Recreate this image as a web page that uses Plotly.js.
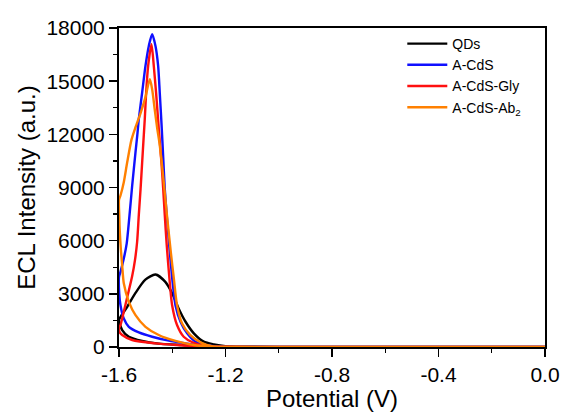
<!DOCTYPE html>
<html><head><meta charset="utf-8">
<script src="https://cdn.plot.ly/plotly-3.0.1.min.js"></script>
<style>html,body{margin:0;padding:0;background:#fff}</style>
</head><body><div id="chart" style="width:563px;height:412px"></div>
<script>
// Series names
const names = ["QDs", "A-CdS", "A-CdS-Gly", "A-CdS-Ab<sub>2</sub>"];
const colors = ["#000000", "#1010ff", "#ff1010", "#ff8000"];

// Potential (V) and ECL intensity (a.u.), scan 0 V -> -1.6 V -> back to 0 V
const qdsV = [0, -0.9, -1.2, -1.244, -1.282, -1.319, -1.350, -1.376, -1.400, -1.426, -1.463, -1.501, -1.538, -1.569, -1.594, -1.600, -1.588, -1.563, -1.513, -1.451, -1.363, -1.28, -1.2, -0.9, 0];
const qdsI = [0, 0, 50, 150, 300, 770, 1425, 2175, 3020, 3675, 4090, 3800, 3050, 2270, 1705, 1520, 956, 580, 340, 190, 110, 40, 10, 0, 0];

const cdsV = [0, -0.9, -1.2, -1.25, -1.313, -1.344, -1.369, -1.388, -1.400, -1.410, -1.420, -1.428, -1.434, -1.440, -1.447, -1.453, -1.463, -1.4755, -1.488, -1.5006, -1.513, -1.5256, -1.531, -1.538, -1.5505, -1.5606, -1.571, -1.582, -1.5944, -1.600, -1.599, -1.5944, -1.582, -1.563, -1.5256, -1.4755, -1.413, -1.3506, -1.30, -1.2, -0.9, 0];
const cdsI = [0, 0, 20, 60, 300, 770, 1425, 2360, 3860, 5500, 7300, 8900, 10700, 12500, 14360, 15860, 16990, 17650, 16990, 15860, 14360, 12860, 12000, 11000, 9100, 7425, 5850, 4990, 4240, 3950, 3000, 2360, 1610, 1140, 825, 580, 356, 206, 100, 20, 0, 0];

const glyV = [0, -0.9, -1.2, -1.25, -1.32, -1.357, -1.382, -1.4005, -1.4106, -1.421, -1.428, -1.434, -1.4406, -1.449, -1.455, -1.461, -1.469, -1.4781, -1.4905, -1.498, -1.5032, -1.507, -1.513, -1.519, -1.5257, -1.532, -1.540, -1.5505, -1.5692, -1.582, -1.5944, -1.600, -1.598, -1.588, -1.5505, -1.4631, -1.38, -1.3, -1.2, -0.9, 0];
const glyI = [0, 0, 10, 20, 240, 580, 1240, 2360, 3860, 5800, 7425, 8925, 10420, 12000, 13200, 14400, 15800, 17080, 15860, 14360, 12860, 11925, 10420, 8925, 7425, 5925, 4900, 4000, 2800, 1990, 1240, 1050, 850, 675, 394, 206, 110, 40, 10, 0, 0];

const abV = [0, -0.9, -1.2, -1.25, -1.29, -1.332, -1.363, -1.382, -1.394, -1.405, -1.419, -1.428, -1.438, -1.447, -1.457, -1.466, -1.4756, -1.4843, -1.5006, -1.519, -1.538, -1.553, -1.5692, -1.582, -1.5944, -1.600, -1.599, -1.597, -1.593, -1.588, -1.582, -1.563, -1.538, -1.5006, -1.4507, -1.388, -1.32, -1.25, -1.0, 0];
const abI = [0, 0, 10, 40, 230, 675, 1330, 2360, 3860, 5300, 7300, 8700, 10200, 11400, 12400, 13430, 14550, 15110, 14100, 13200, 12400, 11700, 10420, 9300, 8550, 8300, 7400, 6500, 5500, 4600, 3600, 2550, 1800, 1140, 675, 340, 110, 30, 0, 0];

const xs = [qdsV, cdsV, glyV, abV];
const ys = [qdsI, cdsI, glyI, abI];

const traces = names.map((n, i) => ({
  x: xs[i], y: ys[i], name: n, type: "scatter", mode: "lines",
  line: {color: colors[i], width: 2.4, shape: "spline", smoothing: 0.7}
}));

const fam = "Liberation Sans, Arial, sans-serif";
const layout = {
  width: 563, height: 412,
  margin: {l: 119, r: 18, t: 28, b: 65},
  paper_bgcolor: "#fff", plot_bgcolor: "#fff",
  font: {family: fam, color: "#000"},
  showlegend: true,
  legend: {x: 0.665, y: 1.0, xanchor: "left", yanchor: "top", bgcolor: "rgba(0,0,0,0)",
           font: {family: fam, size: 14, color: "#000"}, tracegroupgap: 0, itemwidth: 40},
  xaxis: {
    range: [-1.6, 0], tickvals: [-1.6, -1.2, -0.8, -0.4, 0.0], ticktext: ["-1.6", "-1.2", "-0.8", "-0.4", "0.0"],
    ticks: "outside", ticklen: 8, tickwidth: 1.6, tickcolor: "#000",
    minor: {tickvals: [-1.4, -1.0, -0.6, -0.2], ticks: "outside", ticklen: 4, tickwidth: 1.3, tickcolor: "#000"},
    showline: true, linecolor: "#000", linewidth: 2, mirror: true,
    showgrid: false, zeroline: false,
    tickfont: {family: fam, size: 21, color: "#000"},
    title: {text: "Potential (V)", font: {family: fam, size: 24, color: "#000"}, standoff: 4}
  },
  yaxis: {
    range: [0, 18000], tickvals: [0, 3000, 6000, 9000, 12000, 15000, 18000],
    ticktext: ["0", "3000", "6000", "9000", "12000", "15000", "18000"],
    ticks: "outside", ticklen: 8, tickwidth: 1.6, tickcolor: "#000",
    minor: {tickvals: [1500, 4500, 7500, 10500, 13500, 16500], ticks: "outside", ticklen: 4, tickwidth: 1.3, tickcolor: "#000"},
    showline: true, linecolor: "#000", linewidth: 2, mirror: true,
    showgrid: false, zeroline: false,
    tickfont: {family: fam, size: 21, color: "#000"},
    title: {text: "ECL Intensity (a.u.)", font: {family: fam, size: 24, color: "#000"}, standoff: 4}
  }
};
Plotly.newPlot("chart", traces, layout, {displayModeBar: false, staticPlot: true});
</script></body></html>
